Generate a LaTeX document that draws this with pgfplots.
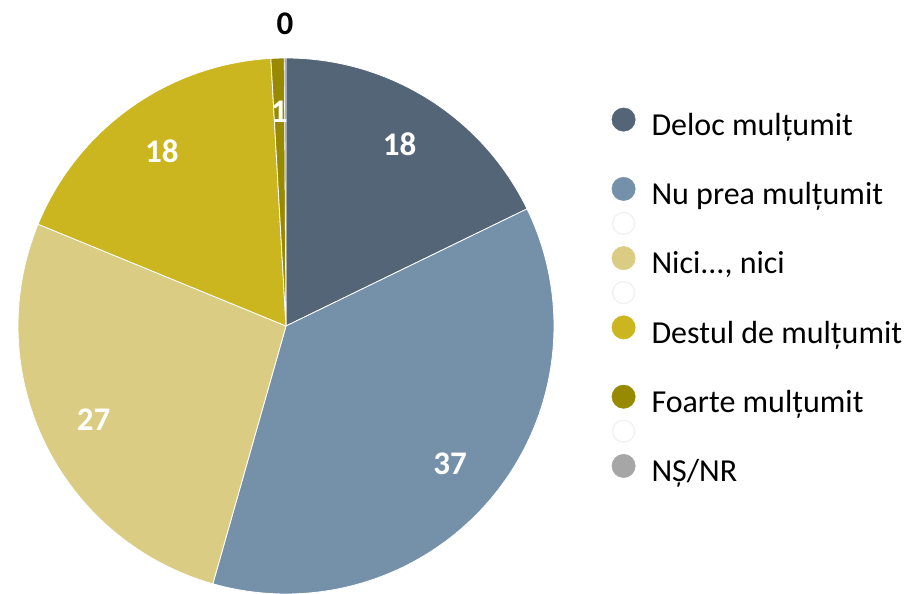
\documentclass[border=0pt]{standalone}
\usepackage{pgfplots}
\pgfplotsset{compat=1.18}
\usepackage{fontspec}
\setmainfont{Carlito}
\definecolor{cDeloc}{HTML}{546577}
\definecolor{cNuPrea}{HTML}{7591A9}
\definecolor{cNici}{HTML}{DBCC84}
\definecolor{cDestul}{HTML}{CCB61F}
\definecolor{cFoarte}{HTML}{978A00}
\definecolor{cNSNR}{HTML}{A6A6A6}
\definecolor{cGhost}{HTML}{F0F0F0}
% data (percent)
\def\vA{17.8}% Deloc multumit
\def\vB{36.6}% Nu prea multumit
\def\vC{26.8}% Nici..., nici
\def\vD{17.9}% Destul de multumit
\def\vE{0.8}%  Foarte multumit
\def\vF{0.1}%  NS/NR
\def\cx{286}\def\cy{268}\def\R{268}\def\rl{214}
\tikzset{lbl/.style={text=white, font=\fontsize{33}{40}\selectfont\bfseries, inner sep=0pt}}
\newcommand\st{\rule[-8pt]{0pt}{32pt}}
\newcommand\legdot[1]{\addlegendimage{legend image code/.code={\fill[#1] (11.7pt,4.5pt) circle (11.7pt);}}}
\newcommand\legghost{\addlegendimage{legend image code/.code={\draw[cGhost,line width=1.3pt] (11.7pt,4.5pt) circle (11pt);}}}
\newcommand\legnone{\addlegendimage{legend image code/.code={\path[draw=none,fill=none] (0pt,-7.2pt) rectangle (23.4pt,16.2pt);}}}
\begin{document}
\begin{tikzpicture}
\path[use as bounding box] (0,0) rectangle (908pt,594pt);
\pgfmathsetmacro\tot{\vA+\vB+\vC+\vD+\vE+\vF}
\pgfmathsetmacro\aA{90}
\pgfmathsetmacro\aB{\aA-360*\vA/\tot}
\pgfmathsetmacro\aC{\aB-360*\vB/\tot}
\pgfmathsetmacro\aD{\aC-360*\vC/\tot}
\pgfmathsetmacro\aE{\aD-360*\vD/\tot}
\pgfmathsetmacro\aF{\aE-360*\vE/\tot}
\pgfmathsetmacro\aG{\aF-360*\vF/\tot}
\begin{axis}[
  at={(0,0)}, anchor=south west,
  width=908pt, height=594pt, scale only axis,
  xmin=0, xmax=908, ymin=0, ymax=594,
  hide axis, clip=false,
  wedge/.style={forget plot, draw=white, line width=0.8pt, samples=90, variable=\t},
  legend cell align=left,
  legend style={at={(axis cs:611.7,486.3)}, anchor=north west, draw=none, fill=none,
    inner sep=0pt, outer sep=0pt, row sep=5.6pt,
    font=\fontsize{32}{38}\selectfont,
    nodes={inner sep=0pt},
    /tikz/every odd column/.append style={column sep=16pt}},
]
\addplot[wedge, fill=cDeloc,  domain=\aB:\aA] ({\cx+\R*cos(\t)},{\cy+\R*sin(\t)}) -- (axis cs:\cx,\cy) -- cycle;
\addplot[wedge, fill=cNuPrea, domain=\aC:\aB] ({\cx+\R*cos(\t)},{\cy+\R*sin(\t)}) -- (axis cs:\cx,\cy) -- cycle;
\addplot[wedge, fill=cNici,   domain=\aD:\aC] ({\cx+\R*cos(\t)},{\cy+\R*sin(\t)}) -- (axis cs:\cx,\cy) -- cycle;
\addplot[wedge, fill=cDestul, domain=\aE:\aD] ({\cx+\R*cos(\t)},{\cy+\R*sin(\t)}) -- (axis cs:\cx,\cy) -- cycle;
\addplot[wedge, fill=cFoarte, domain=\aF:\aE] ({\cx+\R*cos(\t)},{\cy+\R*sin(\t)}) -- (axis cs:\cx,\cy) -- cycle;
\addplot[wedge, fill=cNSNR,   domain=\aG:\aF, line width=0.3pt] ({\cx+\R*cos(\t)},{\cy+\R*sin(\t)}) -- (axis cs:\cx,\cy) -- cycle;

\node[lbl] at (axis cs:{\cx+\rl*cos((\aA+\aB)/2)},{\cy+\rl*sin((\aA+\aB)/2)}) {\pgfmathprintnumber[fixed,precision=0,assume math mode=true]{\vA}};
\node[lbl] at (axis cs:{\cx+\rl*cos((\aB+\aC)/2)},{\cy+\rl*sin((\aB+\aC)/2)}) {\pgfmathprintnumber[fixed,precision=0,assume math mode=true]{\vB}};
\node[lbl] at (axis cs:{\cx+\rl*cos((\aC+\aD)/2)},{\cy+\rl*sin((\aC+\aD)/2)}) {\pgfmathprintnumber[fixed,precision=0,assume math mode=true]{\vC}};
\node[lbl] at (axis cs:{\cx+\rl*cos((\aD+\aE)/2)},{\cy+\rl*sin((\aD+\aE)/2)}) {\pgfmathprintnumber[fixed,precision=0,assume math mode=true]{\vD}};
\node[lbl] at (axis cs:{\cx+\rl*cos((\aE+\aF)/2)},{\cy+\rl*sin((\aE+\aF)/2)}) {\pgfmathprintnumber[fixed,precision=0,assume math mode=true]{\vE}};
\node[lbl, text=black] at (axis cs:{\cx+302*cos((\aF+\aG)/2)},{\cy+302*sin((\aF+\aG)/2)}) {\pgfmathprintnumber[fixed,precision=0,assume math mode=true]{\vF}};

\legdot{cDeloc}\addlegendentry{\st Deloc mulțumit}
\legnone\addlegendentry{\st}
\legdot{cNuPrea}\addlegendentry{\st Nu prea mulțumit}
\legghost\addlegendentry{\st}
\legdot{cNici}\addlegendentry{\st Nici..., nici}
\legghost\addlegendentry{\st}
\legdot{cDestul}\addlegendentry{\st Destul de mulțumit}
\legnone\addlegendentry{\st}
\legdot{cFoarte}\addlegendentry{\st Foarte mulțumit}
\legghost\addlegendentry{\st}
\legdot{cNSNR}\addlegendentry{\st NȘ/NR}
\end{axis}
\end{tikzpicture}
\end{document}
